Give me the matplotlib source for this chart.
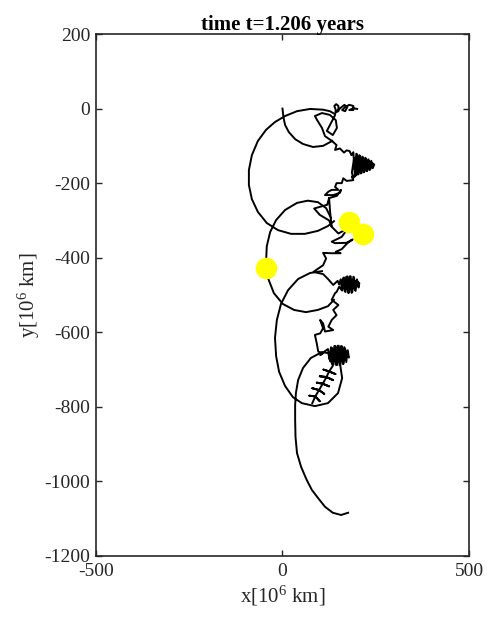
import numpy as np
import matplotlib.pyplot as plt

plt.rcParams['font.family'] = ['Liberation Serif', 'DejaVu Serif']
plt.rcParams['mathtext.fontset'] = 'custom'
plt.rcParams['mathtext.rm'] = 'Liberation Serif'
plt.rcParams['mathtext.it'] = 'Liberation Serif:italic'
plt.rcParams['axes.unicode_minus'] = False

# trajectory pieces, in 10^6 km
loop_start = [(0, 0), (3, -25), (7, -44), (17, -63), (34, -82), (55, -95),
              (82, -103), (109, -100), (133, -87)]

zigzag_top = [(133, -87), (114, -74), (106, -52), (93, -31), (87, -20), (106, -12),
              (127, -17), (143, -31), (146, -52), (135, -71), (119, -60), (130, -39),
              (140, -20), (143, -4), (139, 7), (144, 12), (150, 7), (150, -7),
              (144, -9), (155, 1), (166, 10), (174, 4), (168, -7), (160, -4),
              (168, 4), (179, 10), (190, 7), (190, -4), (179, -4), (190, 1), (200, -1)]

circle_1 = [(141, -15), (127, -7), (109, -3), (74, -1), (39, -7), (7, -20),
            (-20, -36), (-44, -57), (-66, -87), (-82, -125), (-90, -165), (-90, -205),
            (-82, -243), (-66, -277), (-42, -307), (-12, -326), (23, -336), (60, -336),
            (95, -328), (122, -315), (138, -302)]

chain_1 = [(133, -87), (145, -98), (141, -111), (154, -107), (165, -118), (172, -112),
           (180, -114), (185, -125), (190, -117), (194, -178), (198, -121), (202, -177),
           (206, -125), (210, -174), (214, -129), (218, -171), (222, -132), (226, -168),
           (230, -136), (234, -165), (238, -140), (242, -160), (246, -150), (240, -146),
           (236, -162), (232, -139), (228, -166), (224, -134), (220, -169), (216, -131),
           (212, -173), (208, -127), (204, -176), (200, -123), (196, -180), (192, -133),
           (186, -172), (190, -186), (197, -178),
           (186, -183), (190, -192), (172, -194), (163, -187), (159, -200), (145, -200),
           (141, -210), (150, -218), (132, -218), (123, -223), (114, -232), (136, -232),
           (154, -226), (157, -218), (146, -234), (125, -240), (120, -258), (85, -268),
           (100, -285), (125, -300), (132, -317), (128, -280), (125, -240)]

circle_2 = [(130, -293), (117, -267), (95, -251), (68, -247), (39, -253), (7, -272),
            (-17, -299), (-33, -331), (-42, -369), (-44, -411), (-39, -454), (-23, -495),
            (1, -524), (31, -540), (63, -546), (95, -540), (122, -530), (138, -513)]

chain_2 = [(132, -317), (150, -335), (176, -321), (179, -312), (172, -326), (159, -344),
           (132, -357), (141, -361), (172, -360), (188, -351), (174, -361), (159, -377),
           (143, -384), (156, -388), (132, -388), (109, -387), (117, -402), (109, -420),
           (83, -438), (109, -444), (123, -458), (136, -473),
           (148, -462), (152, -472), (156, -458), (160, -488), (165, -453), (169, -492),
           (174, -450), (178, -494), (183, -450), (187, -493), (192, -453), (196, -489),
           (200, -458), (204, -480), (206, -468), (198, -462), (194, -486), (190, -451),
           (185, -494), (180, -450), (176, -494), (171, -451), (167, -490), (162, -455),
           (158, -486), (152, -478), (145, -492),
           (141, -495), (132, -513), (150, -527), (136, -540), (145, -554), (132, -567),
           (123, -585), (136, -594), (114, -598), (109, -576), (101, -567), (109, -589),
           (101, -603), (87, -607), (92, -630), (96, -652), (109, -656), (101, -661),
           (112, -652), (122, -645), (126, -672), (130, -640), (135, -685), (139, -637),
           (144, -688), (148, -636), (153, -688), (157, -637), (162, -685), (166, -640),
           (171, -680), (175, -648), (178, -668), (172, -660), (168, -644), (164, -684),
           (160, -638), (155, -688), (151, -636), (146, -688), (142, -637), (137, -686),
           (133, -642), (128, -678), (124, -660), (135, -690),
           (125, -705), (142, -712), (125, -705), (110, -700), (125, -705),
           (118, -720), (135, -728), (118, -720), (100, -718), (118, -720), (108, -738),
           (125, -745), (108, -738), (92, -735), (108, -738), (98, -755), (112, -765),
           (98, -755), (80, -750), (98, -755), (88, -772), (100, -785), (88, -772),
           (72, -770), (88, -772), (80, -790)]

loop_tail = [(106, -436), (74, -441), (42, -457), (15, -487), (-4, -524), (-15, -567),
             (-20, -615), (-17, -664), (-9, -706), (7, -744), (28, -774), (52, -790),
             (87, -798), (122, -790), (149, -763), (160, -723), (154, -682), (135, -658),
             (106, -653), (76, -669), (55, -696), (42, -728), (36, -763), (34, -795),
             (34, -835), (35, -881), (39, -924), (50, -961), (65, -996), (79, -1023),
             (95, -1044), (114, -1068), (135, -1084), (157, -1090), (176, -1084)]

bodies_x = [179, 215, -44]
bodies_y = [-305, -336, -427]

txt = '#262626'

fig = plt.figure(figsize=(4.87, 6.25), dpi=100)
ax = fig.add_axes([0.197, 0.1104, 0.766, 0.8352])

for seg in [loop_start, zigzag_top, circle_1, chain_1, circle_2, chain_2, loop_tail]:
    pts = np.array(seg)
    ax.plot(pts[:, 0], pts[:, 1], color='black', lw=1.4, solid_joinstyle='round')

ax.plot(bodies_x, bodies_y, 'o', color='#ffff00', markersize=15.5, markeredgewidth=0)

ax.set_xlim(-500, 500)
ax.set_ylim(-1200, 200)
ax.set_xticks([-500, 0, 500])
ax.set_yticks(np.arange(-1200, 201, 200))
ax.tick_params(direction='in', top=True, right=True, labelsize=14, length=4, width=1,
               color=txt, labelcolor=txt)
ax.tick_params(axis='x', pad=5)
ax.tick_params(axis='y', pad=4)
for s in ax.spines.values():
    s.set_linewidth(1.2)
    s.set_color(txt)

ax.set_title('time t=1.206 years', fontsize=15, fontweight='bold', pad=3, color='black')
ax.set_xlabel('x[10$^{6}$ km]', fontsize=15, labelpad=3, color=txt)
ax.set_ylabel('y[10$^{6}$ km]', fontsize=15, labelpad=2, color=txt)

fig.savefig('out.png', dpi=100)
